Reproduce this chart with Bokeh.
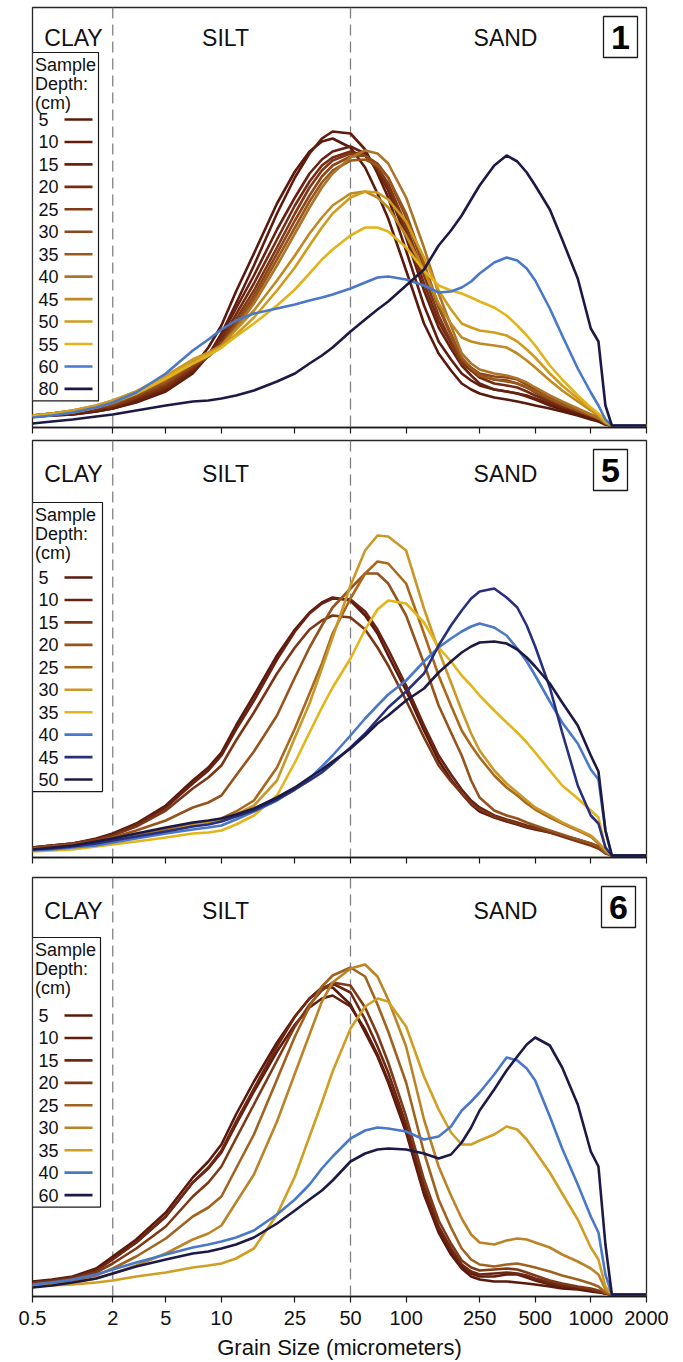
import math
from bokeh.plotting import figure
from bokeh.layouts import column
from bokeh.models import Range1d, FixedTicker, Span, ColumnDataSource
from bokeh.core.properties import value
from bokeh.embed import file_html
from bokeh.resources import INLINE

# ---------------- data ----------------
GRAIN_UM = [0.5, 0.7, 1, 1.5, 2, 3, 5, 7, 8.5, 10, 12, 15, 20, 25, 30, 35, 40, 50, 60, 70, 80,
            100, 125, 150, 175, 200, 225, 250, 300, 350, 400, 450, 500, 600, 700, 850, 1000,
            1100, 1200, 1300, 2000]
TICK_UM = [0.5, 2, 5, 10, 25, 50, 100, 250, 500, 1000, 2000]
TICK_LABELS = ["0.5", "2", "5", "10", "25", "50", "100", "250", "500", "1000", "2000"]
CLASS_BOUNDS_UM = [2, 50]
CLASS_NAMES = ["CLAY", "SILT", "SAND"]

# Panel 1 (relative volume, arbitrary units)
P1_DEPTHS = ["5", "10", "15", "20", "25", "30", "35", "40", "45", "50", "55", "60", "80"]
P1_COLORS = ["#5a190c", "#5f1c0d", "#692210", "#742c12", "#803815", "#8e4719", "#9a571c",
             "#ad7428", "#bf8a23", "#cf9c1d", "#e2b31b", "#4a78c8", "#1d1946"]
p1_5 = [9, 10, 11, 14, 17, 24, 36, 58, 78, 100, 134, 172, 222, 254, 274, 284, 287, 278, 258, 232, 207, 155, 102, 72, 55, 42, 36, 32, 28, 26, 24, 22, 20, 17, 14, 10, 6, 4, 1, 0, 0]
p1_10 = [9, 10, 11, 14, 17, 23, 34, 52, 70, 92, 122, 160, 212, 248, 272, 287, 294, 292, 276, 252, 228, 175, 120, 84, 66, 52, 45, 40, 36, 34, 32, 29, 26, 20, 16, 12, 8, 5, 1, 0, 0]
p1_15 = [9, 10, 12, 15, 18, 25, 36, 54, 70, 90, 117, 150, 196, 228, 252, 266, 274, 279, 272, 255, 235, 188, 135, 98, 77, 60, 50, 42, 36, 34, 32, 30, 27, 22, 18, 13, 9, 6, 2, 0, 0]
p1_20 = [9, 11, 13, 16, 19, 27, 38, 56, 70, 86, 111, 142, 186, 220, 244, 260, 268, 274, 270, 256, 238, 194, 142, 104, 82, 64, 55, 48, 42, 40, 38, 34, 30, 24, 19, 14, 10, 7, 2, 0, 0]
p1_25 = [10, 11, 13, 17, 20, 28, 40, 58, 69, 82, 106, 135, 178, 212, 238, 255, 265, 272, 270, 258, 242, 200, 150, 110, 84, 62, 55, 50, 46, 45, 42, 38, 33, 26, 21, 15, 10, 7, 2, 0, 0]
p1_30 = [10, 12, 14, 18, 21, 30, 42, 60, 69, 80, 102, 130, 172, 205, 230, 249, 260, 269, 270, 262, 248, 208, 158, 118, 90, 66, 58, 52, 49, 48, 46, 41, 36, 28, 22, 16, 11, 8, 3, 0, 0]
p1_35 = [10, 12, 14, 18, 22, 31, 44, 62, 70, 80, 100, 126, 166, 198, 224, 243, 255, 265, 266, 260, 248, 212, 162, 120, 92, 68, 57, 50, 46, 44, 42, 38, 34, 27, 21, 15, 10, 7, 2, 0, 0]
p1_40 = [10, 12, 15, 19, 23, 32, 46, 63, 70, 78, 97, 122, 160, 192, 218, 238, 252, 268, 275, 272, 262, 228, 178, 132, 100, 72, 62, 56, 52, 50, 47, 43, 38, 30, 24, 17, 11, 8, 3, 0, 0]
p1_45 = [10, 12, 15, 20, 25, 34, 49, 66, 73, 80, 96, 115, 145, 170, 192, 208, 220, 232, 234, 228, 218, 190, 155, 122, 102, 88, 84, 82, 80, 78, 72, 65, 58, 45, 35, 24, 15, 10, 3, 0, 0]
p1_50 = [10, 12, 15, 20, 25, 34, 50, 66, 72, 78, 91, 108, 135, 158, 180, 198, 212, 228, 234, 233, 226, 204, 168, 135, 116, 102, 98, 95, 93, 90, 84, 76, 68, 52, 40, 27, 17, 11, 4, 0, 0]
p1_55 = [9, 11, 13, 18, 23, 32, 47, 62, 70, 78, 89, 102, 120, 136, 152, 166, 176, 190, 198, 198, 194, 178, 155, 140, 135, 132, 128, 124, 118, 110, 100, 90, 80, 60, 46, 30, 18, 12, 4, 0, 0]
p1_60 = [8, 10, 13, 18, 23, 33, 52, 75, 86, 96, 105, 112, 117, 121, 125, 128, 131, 137, 143, 148, 149, 146, 140, 133, 134, 138, 144, 152, 163, 168, 165, 157, 145, 117, 90, 57, 33, 20, 6, 0, 0]
p1_80 = [2, 4, 6, 9, 11, 15, 20, 24, 25, 27, 30, 35, 44, 52, 62, 70, 78, 94, 106, 116, 124, 140, 156, 180, 195, 210, 226, 240, 260, 270, 264, 253, 240, 216, 186, 147, 97, 84, 20, 0, 0]
P1_SERIES = [p1_5, p1_10, p1_15, p1_20, p1_25, p1_30, p1_35, p1_40, p1_45, p1_50, p1_55, p1_60, p1_80]

# Panel 5
P2_DEPTHS = ["5", "10", "15", "20", "25", "30", "35", "40", "45", "50"]
P2_COLORS = ["#5a190c", "#682211", "#7c3615", "#95531d", "#a9691d", "#c99829", "#e4b41a",
             "#4a78c8", "#28307e", "#1d1946"]
p2_5 = [8, 10, 12, 17, 22, 32, 50, 75, 88, 103, 130, 160, 200, 226, 243, 253, 258, 255, 240, 222, 200, 165, 125, 95, 76, 62, 51, 44, 38, 34, 31, 28, 26, 23, 20, 16, 12, 9, 3, 0, 0]
p2_10 = [8, 10, 12, 16, 21, 31, 48, 72, 85, 100, 126, 155, 196, 224, 242, 252, 257, 256, 244, 226, 206, 170, 130, 100, 81, 66, 55, 48, 40, 36, 33, 30, 28, 24, 20, 15, 11, 8, 3, 0, 0]
p2_15 = [8, 10, 12, 16, 20, 29, 45, 67, 78, 90, 115, 143, 182, 208, 226, 235, 240, 238, 226, 208, 190, 155, 118, 90, 74, 62, 52, 46, 39, 35, 32, 29, 27, 23, 19, 14, 10, 7, 2, 0, 0]
p2_20 = [7, 9, 11, 14, 18, 25, 35, 48, 53, 60, 80, 104, 140, 178, 208, 230, 248, 267, 282, 282, 272, 240, 192, 150, 123, 100, 75, 58, 45, 40, 37, 33, 30, 25, 21, 16, 12, 9, 3, 0, 0]
p2_25 = [6, 8, 10, 13, 16, 20, 26, 32, 34, 37, 44, 55, 88, 127, 162, 192, 222, 257, 282, 294, 292, 272, 222, 180, 150, 125, 110, 98, 80, 68, 60, 52, 46, 38, 32, 25, 19, 12, 4, 0, 0]
p2_30 = [6, 7, 9, 12, 15, 19, 24, 30, 33, 36, 41, 50, 75, 118, 152, 187, 218, 270, 305, 320, 319, 305, 247, 205, 173, 145, 122, 105, 85, 72, 63, 55, 48, 40, 33, 26, 20, 13, 5, 0, 0]
p2_35 = [4, 5, 6, 9, 11, 14, 18, 22, 23, 25, 31, 40, 60, 93, 123, 148, 168, 197, 226, 246, 255, 252, 233, 208, 194, 180, 170, 160, 145, 133, 123, 113, 103, 85, 70, 57, 45, 38, 8, 0, 0]
p2_40 = [5, 6, 8, 10, 13, 17, 22, 26, 28, 30, 36, 44, 55, 66, 77, 89, 100, 120, 137, 150, 161, 175, 194, 208, 217, 224, 229, 232, 228, 220, 207, 194, 180, 154, 133, 112, 86, 76, 25, 0, 0]
p2_45 = [6, 7, 9, 12, 15, 19, 24, 29, 31, 34, 39, 45, 56, 66, 75, 83, 92, 108, 122, 136, 148, 164, 182, 210, 230, 245, 257, 264, 267, 258, 248, 230, 209, 168, 123, 70, 40, 32, 8, 0, 0]
p2_50 = [6, 8, 10, 14, 17, 22, 28, 33, 35, 37, 41, 47, 58, 68, 78, 86, 94, 107, 120, 132, 140, 155, 167, 183, 194, 203, 209, 213, 214, 212, 206, 198, 189, 172, 153, 130, 100, 84, 25, 0, 0]
P2_SERIES = [p2_5, p2_10, p2_15, p2_20, p2_25, p2_30, p2_35, p2_40, p2_45, p2_50]

# Panel 6
P3_DEPTHS = ["5", "10", "15", "20", "25", "30", "35", "40", "60"]
P3_COLORS = ["#5a190c", "#621d0e", "#6e2712", "#7e3a16", "#a0621f", "#bb8328", "#d09e22",
             "#4a78c8", "#1d1946"]
p3_5 = [13, 15, 18, 26, 38, 55, 82, 117, 133, 150, 180, 213, 252, 278, 296, 307, 307, 290, 262, 238, 212, 162, 100, 62, 40, 26, 18, 15, 13, 13, 12, 11, 10, 8, 6, 5, 3, 2, 1, 0, 0]
p3_10 = [12, 14, 17, 24, 36, 52, 78, 112, 126, 142, 170, 203, 243, 270, 287, 296, 299, 288, 265, 240, 214, 165, 103, 64, 43, 28, 21, 18, 18, 20, 20, 17, 14, 10, 8, 6, 4, 3, 1, 0, 0]
p3_15 = [12, 14, 17, 24, 35, 52, 78, 112, 127, 144, 173, 206, 248, 278, 296, 306, 311, 302, 275, 248, 222, 170, 108, 68, 46, 30, 23, 20, 21, 22, 21, 19, 16, 12, 9, 7, 5, 3, 1, 0, 0]
p3_20 = [11, 13, 16, 22, 31, 46, 68, 98, 112, 128, 156, 190, 234, 268, 290, 304, 312, 309, 287, 260, 232, 178, 115, 74, 51, 34, 27, 24, 25, 26, 25, 22, 19, 14, 11, 8, 6, 4, 1, 0, 0]
p3_25 = [10, 12, 14, 19, 26, 38, 56, 78, 87, 98, 126, 160, 215, 258, 288, 308, 319, 327, 318, 290, 263, 212, 142, 95, 67, 46, 35, 30, 28, 30, 31, 29, 27, 23, 19, 15, 11, 8, 2, 0, 0]
p3_30 = [9, 10, 12, 16, 21, 29, 41, 55, 61, 69, 92, 120, 173, 221, 260, 293, 312, 326, 330, 318, 295, 248, 175, 128, 99, 76, 60, 52, 50, 54, 56, 55, 52, 47, 40, 33, 26, 20, 5, 0, 0]
p3_35 = [8, 9, 10, 12, 14, 18, 22, 27, 29, 31, 36, 46, 80, 118, 158, 192, 223, 266, 288, 296, 293, 268, 218, 185, 162, 150, 150, 154, 160, 168, 165, 155, 143, 122, 101, 75, 47, 35, 8, 0, 0]
p3_40 = [10, 12, 15, 20, 25, 32, 40, 47, 50, 53, 57, 64, 80, 95, 110, 126, 138, 156, 164, 167, 166, 163, 155, 158, 168, 184, 193, 202, 220, 237, 234, 226, 214, 178, 146, 110, 78, 62, 20, 0, 0]
p3_60 = [7, 9, 12, 16, 21, 28, 35, 41, 43, 46, 50, 57, 71, 84, 95, 104, 114, 133, 141, 145, 146, 145, 141, 136, 140, 152, 167, 184, 205, 224, 238, 250, 257, 249, 227, 190, 143, 128, 50, 0, 0]
P3_SERIES = [p3_5, p3_10, p3_15, p3_20, p3_25, p3_30, p3_35, p3_40, p3_60]

# ---------------- grain-size axis (log, compressed below 5 um) ----------------
FRAME_W = 614
LOW_PER_DECADE = 133.3    # axis units per decade from 0.5 to 5 um
HIGH_PER_DECADE = 184.7   # axis units per decade from 5 to 2000 um


def gx(um):
    l = math.log10(um)
    if um <= 5:
        return LOW_PER_DECADE * (l - math.log10(0.5))
    return LOW_PER_DECADE * (math.log10(5) - math.log10(0.5)) + HIGH_PER_DECADE * (l - math.log10(5))


FONT = "Liberation Sans"
XS = [gx(u) for u in GRAIN_UM]
TICKS = [round(gx(t), 3) for t in TICK_UM]


def panel(series, depths, colors, badge, frame_h, top_b, bottom_b,
          leg_top, leg_first, leg_right, badge_left, class_off, is_bottom):
    p = figure(frame_width=FRAME_W, frame_height=frame_h,
               x_range=Range1d(0, FRAME_W), y_range=Range1d(-2, frame_h - 2),
               min_border_left=32, min_border_right=35,
               min_border_top=top_b, min_border_bottom=bottom_b,
               output_backend="svg", toolbar_location=None,
               outline_line_color="#262626", outline_line_width=1.3)
    ytop = frame_h - 2
    p.grid.visible = False
    p.yaxis.visible = False

    for b in CLASS_BOUNDS_UM:
        p.add_layout(Span(location=gx(b), dimension="height", line_color="#808080",
                          line_width=1.3, line_dash="11 6", level="underlay"))

    for vals, c in zip(series, colors):
        src = ColumnDataSource(dict(x=XS, y=vals))
        p.line("x", "y", source=src, line_color=c, line_width=2.6, line_join="round")

    # class names
    p.text(x=[41, 193, 473], y=[ytop - class_off] * 3, text=CLASS_NAMES,
           text_font=value(FONT), text_font_size=value("23px"), text_color="#111111",
           text_align="center", text_baseline="middle")

    # legend
    n = len(depths)
    step = 22.45
    entry_y = [ytop - (leg_first + step * i) for i in range(n)]
    leg_bottom = leg_first + step * (n - 1) + 12
    p.quad(left=[0], right=[leg_right], top=[ytop - leg_top], bottom=[ytop - leg_bottom],
           fill_color="white", line_color="#1a1a1a", line_width=1.2)
    p.text(x=[2.5] * 3, y=[ytop - (leg_top + 12 + 19 * i) for i in range(3)],
           text=["Sample", "Depth:", "(cm)"], text_font=value(FONT),
           text_font_size=value("18px"), text_color="#111111",
           text_align="left", text_baseline="middle")
    p.text(x=[6] * n, y=entry_y, text=depths, text_font=value(FONT),
           text_font_size=value("18px"), text_color="#111111",
           text_align="left", text_baseline="middle")
    p.segment(x0=[32] * n, x1=[60] * n, y0=entry_y, y1=entry_y,
              line_color=colors, line_width=2.6)

    # panel badge
    p.quad(left=[badge_left], right=[badge_left + 34], top=[ytop - 9], bottom=[ytop - 50],
           fill_color="white", line_color="#1a1a1a", line_width=1.3)
    p.text(x=[badge_left + 17], y=[ytop - 30], text=[badge], text_font=value(FONT),
           text_font_size=value("34px"), text_font_style="bold", text_color="black",
           text_align="center", text_baseline="middle")

    ax = p.xaxis[0]
    ax.ticker = FixedTicker(ticks=TICKS, minor_ticks=[])
    ax.major_tick_out = 6
    ax.major_tick_in = 0
    ax.major_tick_line_color = "#1a1a1a"
    ax.major_tick_line_width = 1.2
    ax.axis_line_color = "#1a1a1a"
    ax.axis_line_width = 1.3
    if is_bottom:
        ax.major_label_overrides = {t: l for t, l in zip(TICKS, TICK_LABELS)}
        ax.major_label_text_font = FONT
        ax.major_label_text_font_size = "20px"
        ax.major_label_text_color = "#111111"
        ax.major_label_standoff = 8
        ax.axis_label = "Grain Size (micrometers)"
        ax.axis_label_text_font = FONT
        ax.axis_label_text_font_size = "22px"
        ax.axis_label_text_font_style = "normal"
        ax.axis_label_text_color = "#111111"
        ax.axis_label_standoff = 7
    else:
        ax.major_label_overrides = {t: "" for t in TICKS}
        ax.major_label_text_font_size = "0px"
        ax.major_label_standoff = 0
    return p


p1 = panel(P1_SERIES, P1_DEPTHS, P1_COLORS, "1", 420, 7, 12, 45, 112, 66, 571, 30, False)
p2 = panel(P2_SERIES, P2_DEPTHS, P2_COLORS, "5", 417, 1, 19, 62, 137, 70, 561, 33, False)
p3 = panel(P3_SERIES, P3_DEPTHS, P3_COLORS, "6", 419, 1, 58, 60, 138, 68, 569, 33, True)

layout = column(p1, p2, p3, spacing=0)
open("out.html", "w").write(file_html(layout, INLINE))
